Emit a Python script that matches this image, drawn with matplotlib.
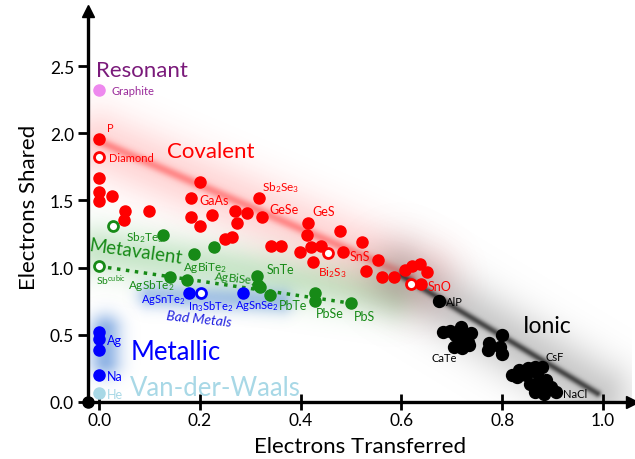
import numpy as np
import matplotlib.pyplot as plt
from matplotlib.colors import to_rgb

plt.rcParams['font.family'] = ['Lato', 'DejaVu Sans']
plt.rcParams['mathtext.fontset'] = 'custom'
plt.rcParams['mathtext.rm'] = 'Lato'
plt.rcParams['mathtext.it'] = 'Lato:italic'

# --- data: (electrons transferred, electrons shared) ---
res_x = [0.0]
res_y = [2.32]

cov_x = [0.0, 0.0, 0.0, 0.0, 0.025, 0.051, 0.050, 0.100, 0.200, 0.182, 0.182, 0.200,
         0.224, 0.269, 0.293, 0.274, 0.250, 0.264, 0.318, 0.324, 0.342, 0.360, 0.415,
         0.413, 0.399, 0.421, 0.441, 0.425, 0.478, 0.484, 0.521, 0.530, 0.553, 0.561,
         0.585, 0.607, 0.620, 0.637, 0.650, 0.639]
cov_y = [1.96, 1.67, 1.56, 1.495, 1.53, 1.42, 1.355, 1.425, 1.635, 1.52, 1.38, 1.31,
         1.39, 1.42, 1.405, 1.33, 1.21, 1.23, 1.52, 1.375, 1.16, 1.16, 1.33,
         1.245, 1.12, 1.15, 1.16, 1.04, 1.27, 1.12, 1.19, 0.975, 1.06, 0.93,
         0.93, 0.98, 1.01, 1.025, 0.97, 0.88]
cov_open_x = [0.0, 0.455, 0.618]
cov_open_y = [1.82, 1.11, 0.88]

mv_x = [0.126, 0.188, 0.229, 0.140, 0.175, 0.313, 0.316, 0.319, 0.340, 0.428, 0.428, 0.500]
mv_y = [1.24, 1.10, 1.15, 0.93, 0.905, 0.94, 0.87, 0.855, 0.80, 0.81, 0.755, 0.735]
mv_open_x = [0.028, 0.0]
mv_open_y = [1.31, 1.01]
mv_trend_x = [0.0, 0.5]
mv_trend_y = [1.01, 0.735]

bad_x = [0.178, 0.285]
bad_y = [0.81, 0.81]
bad_open_x = [0.202]
bad_open_y = [0.81]

met_x = [0.0, 0.0, 0.0, 0.0]
met_y = [0.52, 0.47, 0.39, 0.20]
vdw_x = [0.0]
vdw_y = [0.065]

ion_x = [0.674,
         0.683, 0.697, 0.718, 0.707, 0.725, 0.739, 0.714, 0.732, 0.704, 0.721, 0.735,
         0.774, 0.771, 0.799, 0.795, 0.800,
         0.820, 0.834, 0.851, 0.865, 0.879, 0.830, 0.848, 0.869, 0.855, 0.872, 0.886,
         0.869, 0.883, 0.897, 0.907, 0.865, 0.883]
ion_y = [0.755,
         0.52, 0.53, 0.56, 0.50, 0.49, 0.51, 0.45, 0.45, 0.41, 0.40, 0.425,
         0.44, 0.39, 0.50, 0.41, 0.36,
         0.20, 0.2375, 0.25, 0.2625, 0.2625, 0.1875, 0.20, 0.2125, 0.1375, 0.15, 0.1625,
         0.0875, 0.10, 0.1125, 0.075, 0.075, 0.0625]

red = '#ff0000'
green = '#178a17'
blue = '#0000ff'
purple = '#7a1a7a'
lblue = '#a8d8e6'

XLIM = (-0.022, 1.0575)
YLIM = (0.0, 2.91)
PX, PY = 504.0, 134.4   # pixels per data unit


def glow(ax, p0, p1, sigma, color, amax):
    ext = (XLIM[0], XLIM[1], YLIM[0], YLIM[1])
    xs = np.linspace(ext[0], ext[1], 544)
    ys = np.linspace(ext[2], ext[3], 391)
    X, Y = np.meshgrid(xs, ys)
    px, py = X * PX, Y * PY
    ax0, ay0 = p0[0] * PX, p0[1] * PY
    dx, dy = (p1[0] - p0[0]) * PX, (p1[1] - p0[1]) * PY
    t = np.clip(((px - ax0) * dx + (py - ay0) * dy) / (dx * dx + dy * dy), 0, 1)
    d = np.hypot(px - ax0 - t * dx, py - ay0 - t * dy)
    img = np.zeros(X.shape + (4,))
    img[..., :3] = to_rgb(color)
    img[..., 3] = amax * np.exp(-0.5 * (d / sigma) ** 2)
    ax.imshow(img, extent=ext, origin='lower', aspect='auto', zorder=0,
              interpolation='bilinear')


fig = plt.figure(figsize=(6.35, 4.6), dpi=100)
ax = fig.add_axes([88 / 635, 57 / 460, 544 / 635, 391 / 460])

# shaded regions
glow(ax, (0.0, 1.13), (0.58, 0.80), 18, '#4caf50', 0.30)
glow(ax, (0.0, 1.93), (0.64, 0.92), 24, '#ff3030', 0.20)
glow(ax, (0.0, 1.94), (0.62, 0.93), 3.5, '#ff4040', 0.50)
glow(ax, (0.60, 0.94), (0.99, 0.06), 24, '#808080', 0.42)
glow(ax, (0.60, 0.94), (0.99, 0.06), 2.5, '#202020', 0.75)
glow(ax, (0.10, 0.79), (0.36, 0.75), 9, '#5a8fd8', 0.50)
glow(ax, (0.012, 0.54), (0.012, 0.30), 11, '#5a8fd8', 0.65)

# trend line for metavalent
ax.plot(mv_trend_x, mv_trend_y, color=green, lw=2.5, ls=(0, (1, 1.6)), zorder=2)

ms = 64
ax.scatter(res_x, res_y, s=ms, color='#ee88ee', zorder=3)
ax.scatter(cov_x, cov_y, s=ms, color=red, zorder=3)
ax.scatter(cov_open_x, cov_open_y, s=ms * 0.8, facecolor='white', edgecolor=red, lw=2, zorder=3)
ax.scatter(mv_x, mv_y, s=ms, color=green, zorder=3)
ax.scatter(mv_open_x, mv_open_y, s=ms * 0.8, facecolor='white', edgecolor=green, lw=2, zorder=3)
ax.scatter(bad_x, bad_y, s=ms, color=blue, zorder=3)
ax.scatter(bad_open_x, bad_open_y, s=ms * 0.8, facecolor='white', edgecolor=blue, lw=2, zorder=3)
ax.scatter(met_x, met_y, s=ms, color=blue, zorder=3)
ax.scatter(vdw_x, vdw_y, s=ms, color=lblue, zorder=3)
ax.scatter(ion_x, ion_y, s=ms * 1.15, color='black', zorder=3)

# class names
ax.text(-0.006, 2.47, 'Resonant', color=purple, fontsize=16, va='center')
ax.text(0.134, 1.87, 'Covalent', color=red, fontsize=16, va='center')
ax.text(0.072, 1.125, 'Metavalent', color=green, fontsize=13.5, va='center', ha='center',
        rotation=-8)
ax.text(0.132, 0.62, 'Bad Metals', color='#2020e0', fontsize=10, va='center',
        style='italic', rotation=-6)
ax.text(0.062, 0.375, 'Metallic', color=blue, fontsize=18.5, va='center')
ax.text(0.062, 0.105, 'Van-der-Waals', color=lblue, fontsize=18.5, va='center')
ax.text(0.84, 0.567, 'Ionic', color='black', fontsize=16.5, va='center')

# compound labels
small = 8.5
tiny = 8
ax.text(0.025, 2.32, 'Graphite', color='#9a2a9a', fontsize=tiny, va='center')
ax.text(0.015, 2.04, 'P', color=red, fontsize=tiny, va='center')
ax.text(0.020, 1.82, 'Diamond', color=red, fontsize=tiny, va='center')
ax.text(0.200, 1.50, 'GaAs', color=red, fontsize=9, va='center')
ax.text(0.323, 1.60, r'Sb$_\mathregular{2}$Se$_\mathregular{3}$', color=red, fontsize=small, va='center')
ax.text(0.337, 1.44, 'GeSe', color=red, fontsize=9, va='center')
ax.text(0.423, 1.42, 'GeS', color=red, fontsize=9, va='center')
ax.text(0.497, 1.09, 'SnS', color=red, fontsize=9, va='center')
ax.text(0.435, 0.97, r'Bi$_\mathregular{2}$S$_\mathregular{3}$', color=red, fontsize=small, va='center')
ax.text(0.651, 0.86, 'SnO', color=red, fontsize=9, va='center')

ax.text(0.688, 0.745, 'AlP', color='black', fontsize=tiny, va='center')
ax.text(0.660, 0.33, 'CaTe', color='black', fontsize=tiny, va='center')
ax.text(0.885, 0.337, 'CsF', color='black', fontsize=tiny, va='center')
ax.text(0.920, 0.062, 'NaCl', color='black', fontsize=tiny, va='center')

ax.text(0.053, 1.23, r'Sb$_\mathregular{2}$Te$_\mathregular{3}$', color=green, fontsize=small, va='center')
ax.text(-0.006, 0.91, r'Sb$^\mathregular{cubic}$', color=green, fontsize=7.5, va='center')
ax.text(0.058, 0.875, r'AgSbTe$_\mathregular{2}$', color=green, fontsize=small, va='center')
ax.text(0.167, 1.005, r'AgBiTe$_\mathregular{2}$', color=green, fontsize=small, va='center')
ax.text(0.227, 0.925, r'AgBiSe$_\mathregular{2}$', color=green, fontsize=small, va='center',
        rotation=-6)
ax.text(0.332, 0.99, 'SnTe', color=green, fontsize=9, va='center')
ax.text(0.356, 0.72, 'PbTe', color=green, fontsize=9, va='center')
ax.text(0.430, 0.66, 'PbSe', color=green, fontsize=9, va='center')
ax.text(0.505, 0.64, 'PbS', color=green, fontsize=9, va='center')

ax.text(0.083, 0.77, r'AgSnTe$_\mathregular{2}$', color=blue, fontsize=8, va='center')
ax.text(0.176, 0.72, r'In$_\mathregular{3}$SbTe$_\mathregular{2}$', color=blue, fontsize=8, va='center')
ax.text(0.270, 0.72, r'AgSnSe$_\mathregular{2}$', color=blue, fontsize=8, va='center')

ax.text(0.016, 0.46, 'Ag', color=blue, fontsize=9, va='center')
ax.text(0.016, 0.19, 'Na', color=blue, fontsize=9, va='center')
ax.text(0.016, 0.06, 'He', color=lblue, fontsize=9, va='center')

# axes styling
ax.set_xlim(*XLIM)
ax.set_ylim(*YLIM)
for s in ['top', 'right']:
    ax.spines[s].set_visible(False)
for s in ['left', 'bottom']:
    ax.spines[s].set_linewidth(2.4)
ax.set_xticks([0.0, 0.2, 0.4, 0.6, 0.8, 1.0])
ax.set_yticks([0.0, 0.5, 1.0, 1.5, 2.0, 2.5])
ax.xaxis.set_major_formatter(plt.FormatStrFormatter('%.1f'))
ax.yaxis.set_major_formatter(plt.FormatStrFormatter('%.1f'))
ax.tick_params(axis='x', direction='inout', length=12, width=2, labelsize=12.5, pad=1)
ax.tick_params(axis='y', direction='out', length=7, width=2, labelsize=12.5, pad=3)
ax.set_xlabel('Electrons Transferred', fontsize=16, labelpad=6)
ax.set_ylabel('Electrons Shared', fontsize=16, labelpad=8)

ax.plot(1, 0, '>k', ms=9, transform=ax.transAxes, clip_on=False)
ax.plot(0, 1, '^k', ms=9, transform=ax.transAxes, clip_on=False)
ax.plot(0, 0, 'ok', ms=8, transform=ax.transAxes, clip_on=False)

fig.savefig('out.png', dpi=100)
